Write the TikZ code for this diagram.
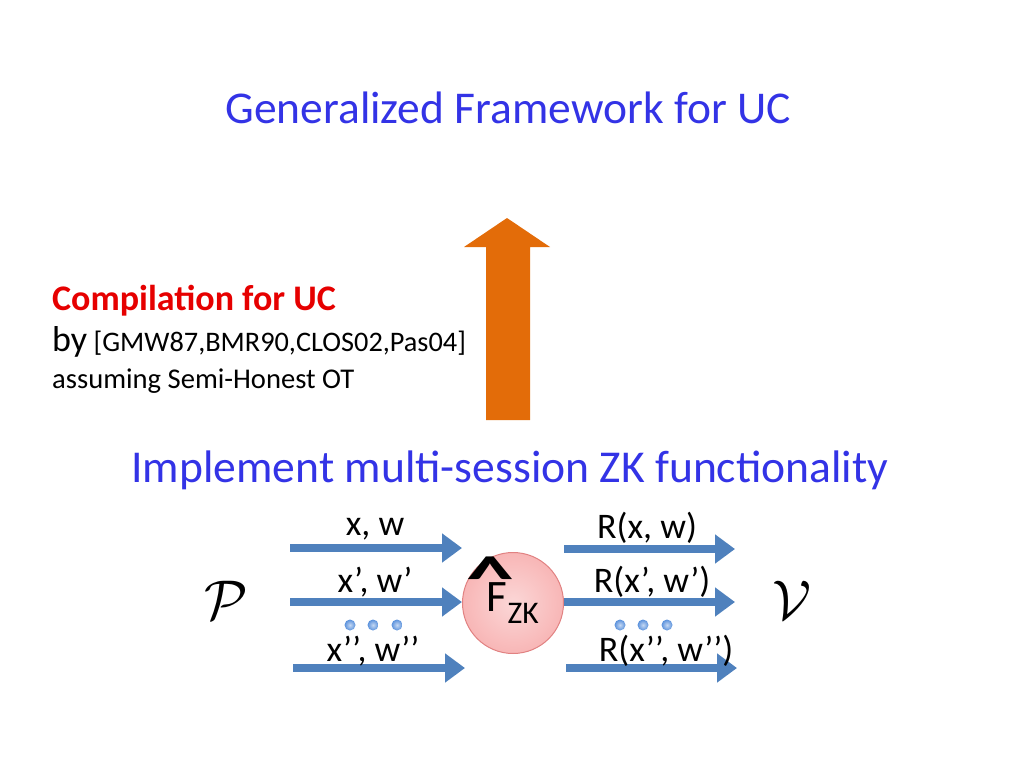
\documentclass[tikz,border=0pt]{standalone}
\usepackage{fontspec}
\setmainfont{Carlito}
\usetikzlibrary{arrows.meta,shapes.arrows}
\definecolor{titleblue}{RGB}{51,51,230}
\definecolor{arrowblue}{RGB}{79,129,189}
\definecolor{dotblue}{RGB}{90,145,220}
\definecolor{orng}{RGB}{227,108,9}
\definecolor{pinkfill}{RGB}{248,182,182}
\definecolor{pinkdraw}{RGB}{225,130,130}
\definecolor{redtxt}{RGB}{230,0,0}
\tikzset{
  flow/.style={draw=arrowblue, line width=8pt, -{Triangle[width=28pt,length=20pt]}},
  lbl/.style={font=\fontsize{36}{40}\selectfont, inner sep=0pt},
  dot/.style={circle, inner color=dotblue!35!white, outer color=dotblue, inner sep=0pt, minimum size=11pt},
}
\newcommand{\bighat}{\makebox[0pt][l]{\hspace*{-20pt}\raisebox{12pt}[0pt][0pt]{\scalebox{1}[0.65]{\bfseries\fontsize{96}{96}\selectfont\textasciicircum}}}}
\begin{document}
\begin{tikzpicture}[x=1pt,y=-1pt]
\useasboundingbox (0,0) rectangle (1024,768);
% title
\node[text=titleblue, font=\fontsize{45.5}{52}\selectfont] (title) at (508,108) {Generalized Framework for UC};
% orange arrow
\fill[orng] (486,420) -- (486,247) -- (464,247) -- (507,218) -- (550,247) -- (530,247) -- (530,420) -- cycle;
% left text
\node[anchor=west, inner sep=0pt, text=redtxt, font=\bfseries\fontsize{36}{40}\selectfont] (comp) at (52,301) {Compilation for UC};
\node[anchor=west, inner sep=0pt, font=\fontsize{28.3}{32}\selectfont] (by) at (52,342) {{\fontsize{36}{40}\selectfont by} [GMW87,BMR90,CLOS02,Pas04]};
\node[anchor=west, inner sep=0pt, font=\fontsize{28.6}{32}\selectfont] (assum) at (52,381) {assuming Semi-Honest OT};
% implement
\node[text=titleblue, font=\fontsize{45.6}{52}\selectfont] (impl) at (510,470) {Implement multi-session ZK functionality};
% circle with F_ZK
\node[circle, draw=pinkdraw, line width=1pt, inner color=pinkfill!55, outer color=pinkfill, minimum size=101pt, inner sep=0pt, font=\fontsize{45}{48}\selectfont] (fzk) at (513,603) {\raisebox{-2pt}{\bighat F\textsubscript{ZK}}};
% P and V
\node[inner sep=0pt] (P) at (226,600) {\scalebox{5.6}{$\mathcal{P}$}};
\node[inner sep=0pt] (V) at (792,600) {\scalebox{5.6}{$\mathcal{V}$}};
% coordinates
\coordinate (l1s) at (290,548); \coordinate (l1e) at (462,548);
\coordinate (l2s) at (290,602); \coordinate (l2e) at (462,602);
\coordinate (l3s) at (293,668); \coordinate (l3e) at (465,668);
\coordinate (r1s) at (564,549); \coordinate (r1e) at (735,549);
\coordinate (r2s) at (564,602); \coordinate (r2e) at (735,602);
\coordinate (r3s) at (566,668); \coordinate (r3e) at (737,668);
\draw[flow] (l1s) -- (l1e);
\draw[flow] (l2s) -- (l2e);
\draw[flow] (l3s) -- (l3e);
\draw[flow] (r1s) -- (r1e);
\draw[flow] (r2s) -- (r2e);
\draw[flow] (r3s) -- (r3e);
% labels
\node[lbl] (a1) at (375,529) {x, w};
\node[lbl] (a2) at (375,582) {x’, w’};
\node[lbl] (a3) at (373,651) {x’’, w’’};
\node[lbl] (b1) at (647,528) {R(x, w)};
\node[lbl] (b2) at (652,582) {R(x’, w’)};
\node[lbl] (b3) at (666,651) {R(x’’, w’’)};
% dots
\node[dot] (d1) at (350,625) {};
\node[dot] (d2) at (373,625) {};
\node[dot] (d3) at (397,625) {};
\node[dot] (d4) at (620,625) {};
\node[dot] (d5) at (643,625) {};
\node[dot] (d6) at (667,625) {};
\end{tikzpicture}
\end{document}
